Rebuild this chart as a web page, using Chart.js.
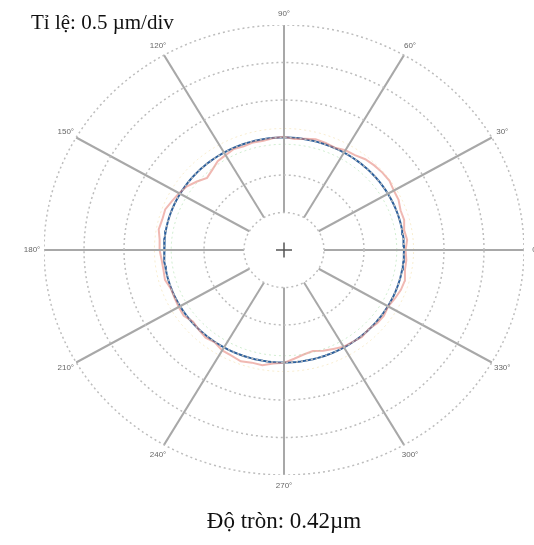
<!DOCTYPE html>
<html><head><meta charset="utf-8">
<script src="https://cdn.jsdelivr.net/npm/chart.js@4"></script>
<style>html,body{margin:0;padding:0;background:#fff}#wrap{width:534px;height:545px;position:relative}</style>
</head><body><div id="wrap"><canvas id="c" width="534" height="545"></canvas></div>
<script>
const scaleTitle = 'Tỉ lệ: 0.5 µm/div';
const roundnessTitle = 'Độ tròn: 0.42µm';
const spokeAngles = [0, 30, 60, 90, 120, 150, 180, 210, 240, 270, 300, 330];
const angleLabels = ['0°', '30°', '60°', '90°', '120°', '150°', '180°', '210°', '240°', '270°', '300°', '330°'];
const gridRadii = [1, 2, 3, 4, 5, 6];
const profileAngles = [0,5,10,15,20,25,30,35,40,45,50,55,60,65,70,75,80,85,90,95,100,105,110,115,120,125,130,135,140,145,150,155,160,165,170,175,180,185,190,195,200,205,210,215,220,225,230,235,240,245,250,255,260,265,270,275,280,285,290,295,300,305,310,315,320,325,330,335,340,345,350,355];
const profileRadii = [3.04,3.09,3.05,3.11,3.10,3.16,3.17,3.22,3.21,3.19,3.16,3.09,3.07,3.01,3.04,3.06,3.01,2.97,3.02,3.00,2.96,2.97,2.94,2.97,2.92,2.89,2.79,2.72,2.84,2.96,3.03,3.09,3.16,3.15,3.18,3.12,3.11,3.07,3.06,3.08,3.01,3.02,3.04,3.06,2.97,3.01,3.05,3.01,3.09,3.11,3.16,3.11,3.12,3.04,3.01,2.91,2.83,2.79,2.86,2.91,2.98,2.99,3.03,2.99,3.04,3.05,3.01,3.06,3.11,3.13,3.07,3.07];
const refCircleRadius = 3.0;
const minCircleRadius = 2.82;
const maxCircleRadius = 3.24;
const spokeInner = 1, spokeOuter = 6;

const rad = a => a * Math.PI / 180;
function circlePts(r) {
  const pts = [];
  for (let a = 0; a <= 360; a += 2) pts.push({x: r * Math.cos(rad(a)), y: r * Math.sin(rad(a))});
  return pts;
}
const datasets = [];
gridRadii.forEach(r => datasets.push({data: circlePts(r), borderColor: '#bdbdbd', borderWidth: 1.5, borderDash: [2, 3], showLine: true, pointRadius: 0}));
spokeAngles.forEach(a => datasets.push({data: [{x: spokeInner * Math.cos(rad(a)), y: spokeInner * Math.sin(rad(a))}, {x: spokeOuter * Math.cos(rad(a)), y: spokeOuter * Math.sin(rad(a))}], borderColor: '#a8a8a8', borderWidth: 2, showLine: true, pointRadius: 0}));
datasets.push({data: [{x: -0.2, y: 0}, {x: 0.2, y: 0}], borderColor: '#555', borderWidth: 1.5, showLine: true, pointRadius: 0});
datasets.push({data: [{x: 0, y: -0.2}, {x: 0, y: 0.2}], borderColor: '#555', borderWidth: 1.5, showLine: true, pointRadius: 0});
datasets.push({data: circlePts(minCircleRadius), borderColor: 'rgba(150,215,150,0.45)', borderWidth: 1, borderDash: [2, 3], showLine: true, pointRadius: 0});
datasets.push({data: circlePts(maxCircleRadius), borderColor: 'rgba(240,215,150,0.45)', borderWidth: 1, borderDash: [2, 3], showLine: true, pointRadius: 0});
const prof = profileAngles.map((a, i) => ({x: profileRadii[i] * Math.cos(rad(a)), y: profileRadii[i] * Math.sin(rad(a))}));
prof.push(prof[0]);
datasets.push({data: prof, borderColor: 'rgba(228,125,115,0.55)', borderWidth: 2, showLine: true, pointRadius: 0, tension: 0});
datasets.push({data: circlePts(refCircleRadius), borderColor: '#2b5f9c', borderWidth: 2, showLine: true, pointRadius: 0});

const textPlugin = {
  id: 'texts',
  afterDraw(chart) {
    const ctx = chart.ctx, xs = chart.scales.x, ys = chart.scales.y;
    ctx.save();
    ctx.fillStyle = '#666';
    ctx.font = '8px "Liberation Sans", Arial, sans-serif';
    ctx.textAlign = 'center'; ctx.textBaseline = 'middle';
    spokeAngles.forEach((a, i) => {
      const r = 6.3;
      ctx.fillText(angleLabels[i], xs.getPixelForValue(r * Math.cos(rad(a))), ys.getPixelForValue(r * Math.sin(rad(a))));
    });
    ctx.fillStyle = '#111';
    ctx.textAlign = 'left'; ctx.textBaseline = 'alphabetic';
    ctx.font = '21px "Liberation Serif", "Times New Roman", serif';
    ctx.fillText(scaleTitle, 31, 29);
    ctx.textAlign = 'center';
    ctx.font = '23px "Liberation Serif", "Times New Roman", serif';
    ctx.fillText(roundnessTitle, 284, 528);
    ctx.restore();
  }
};

new Chart(document.getElementById('c'), {
  type: 'scatter',
  data: {datasets},
  options: {
    responsive: false, animation: false,
    layout: {padding: {left: 44, right: 10, top: 25, bottom: 70}},
    scales: {x: {type: 'linear', min: -6, max: 6, display: false}, y: {type: 'linear', min: -6, max: 6, display: false}},
    plugins: {legend: {display: false}, tooltip: {enabled: false}},
    elements: {point: {radius: 0}}
  },
  plugins: [textPlugin]
});
</script></body></html>
